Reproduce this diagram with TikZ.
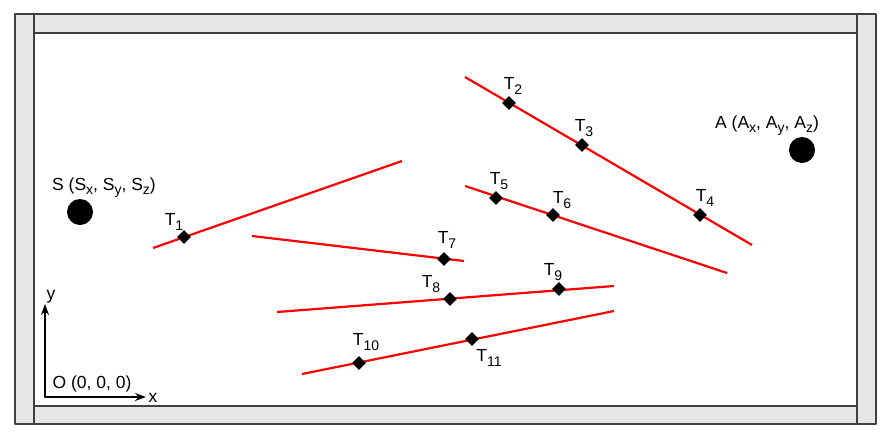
\documentclass[tikz,border=0pt]{standalone}
\usepackage{fontspec}
\setmainfont{Liberation Sans}
\usetikzlibrary{arrows.meta,shapes.geometric}
\newcommand{\lsub}[1]{\raisebox{-0.45ex}{\fontsize{14}{16}\selectfont #1}}
\begin{document}
\begin{tikzpicture}[x=1pt, y=-1pt, line cap=round, line join=round]
  \definecolor{wallgray}{RGB}{230,230,230}
  \definecolor{walledge}{RGB}{64,64,64}
  \tikzset{
    wall/.style={fill=wallgray, draw=walledge, line width=1.3pt},
    ray/.style={red, line width=2.2pt, line cap=butt},
    tpoint/.style={diamond, fill=black, inner sep=0pt, minimum size=14pt},
    lbl/.style={font=\fontsize{17.5}{20}\selectfont, inner sep=0pt},
    source/.style={circle, fill=black, inner sep=0pt, minimum size=26pt},
    axis/.style={line width=1.3pt, -{Stealth[length=11pt, width=8pt]}}
  }
  \useasboundingbox (0,0) rectangle (892,445);
  % room walls
  \draw[wall] (15,14) rectangle (34,424);
  \draw[wall] (857,14) rectangle (876,424);
  \draw[wall] (34,14) rectangle (857,33);
  \draw[wall] (34,406) rectangle (857,424);
  % source and receiver
  \node[source] (S) at (80,212) {};
  \node[lbl] (S label) at (104,188) {S (S\lsub{x}, S\lsub{y}, S\lsub{z})};
  \node[source] (A) at (802,150) {};
  \node[lbl] (A label) at (767,126) {A (A\lsub{x}, A\lsub{y}, A\lsub{z})};
  % line segments
  \coordinate (r1a) at (153,248);  \coordinate (r1b) at (402,161);
  \coordinate (r2a) at (465,77);   \coordinate (r2b) at (752,245);
  \coordinate (r3a) at (465,186);  \coordinate (r3b) at (727,273);
  \coordinate (r4a) at (252,236);  \coordinate (r4b) at (464,261);
  \coordinate (r5a) at (277,312);  \coordinate (r5b) at (614,286);
  \coordinate (r6a) at (302,374);  \coordinate (r6b) at (614,311);
  \foreach \r in {1,...,6}{
    \draw[ray] (r\r a) -- (r\r b);
  }
  % points on the segments
  \foreach \n/\x/\y/\lx/\ly in {1/184/237/174/222, 2/509/103/513/86, 3/582/145/584/128,
      4/700/215/705/198, 5/496/198/499/181, 6/553/215/562/200, 7/444/259/447/240,
      8/450/299/431/284, 9/559/289/553/272, 10/359/363/366/342, 11/472/339/489/358}{
    \node[tpoint] (T\n) at (\x,\y) {};
    \node[lbl] (T\n label) at (\lx,\ly) {T\lsub{\n}};
  }
  % axes
  \coordinate (O) at (45,397);
  \coordinate (yend) at (45,304);
  \coordinate (xend) at (146,397);
  \draw[axis] (O) -- (yend);
  \draw[axis] (O) -- (xend);
  \node[lbl] (y label) at (51,297) {y};
  \node[lbl] (x label) at (153,398) {x};
  \node[lbl] (O label) at (92,384) {O (0, 0, 0)};
\end{tikzpicture}
\end{document}
